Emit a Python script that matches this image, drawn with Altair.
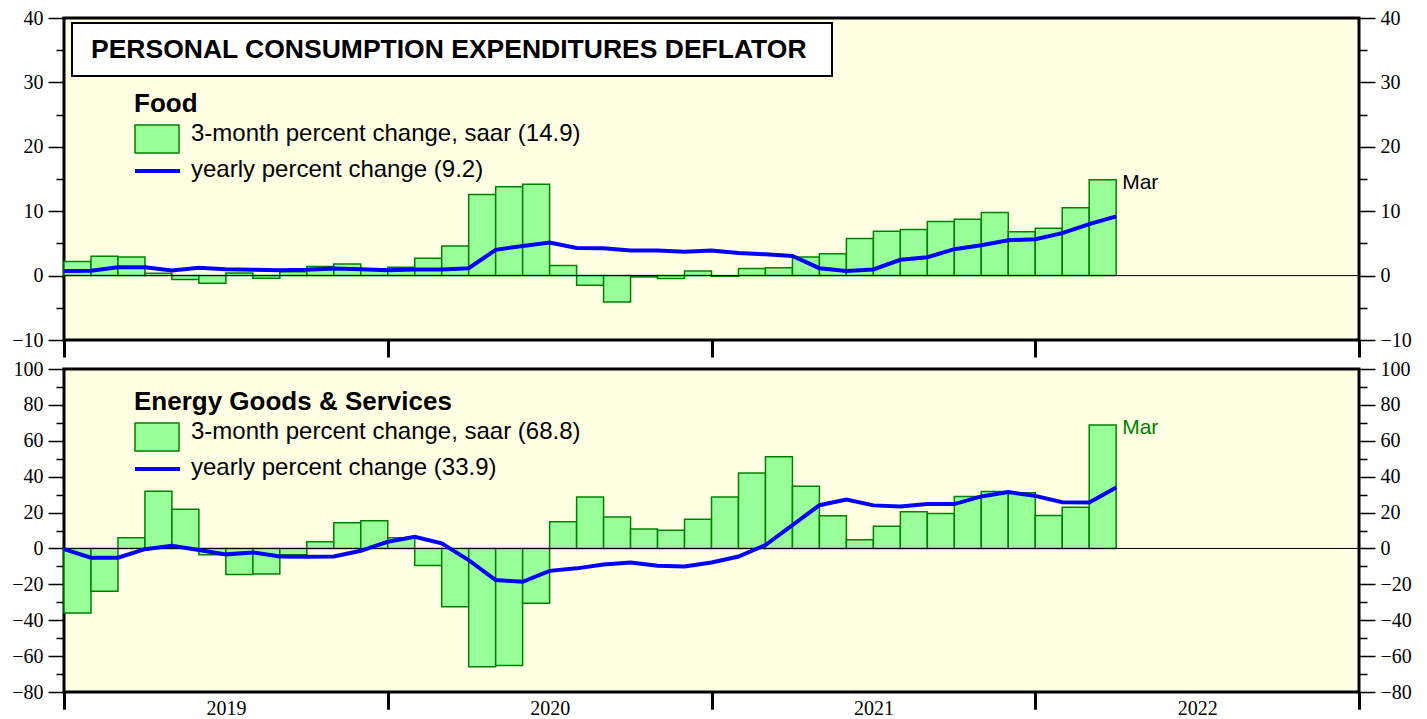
import altair as alt
import pandas as pd

# ---------------- data ----------------
YEARS = ["2019", "2020", "2021", "2022"]

# 3-month percent change, saar (Jan 2019 .. Mar 2022), one value per month
FOOD_3M = [2.2, 3.0, 2.9, 0.35, -0.6, -1.2, 0.4, -0.4, 0.6, 1.4, 1.8, 1.0,
           1.3, 2.7, 4.6, 12.6, 13.8, 14.2, 1.55, -1.5, -4.1, -0.2, -0.45, 0.7,
           -0.1, 1.1, 1.2, 2.9, 3.4, 5.75, 6.9, 7.15, 8.4, 8.75, 9.8, 6.8,
           7.35, 10.55, 14.9]
# yearly percent change (Dec 2018 .. Mar 2022), plotted at month ends
FOOD_YOY = [0.7,
            0.75, 1.3, 1.3, 0.8, 1.2, 1.0, 0.9, 0.85, 0.9, 1.1, 1.0, 0.85,
            0.95, 0.95, 1.15, 4.0, 4.6, 5.15, 4.3, 4.25, 3.9, 3.9, 3.7, 3.9,
            3.5, 3.3, 3.05, 1.15, 0.7, 0.95, 2.45, 2.85, 4.1, 4.7, 5.5, 5.65,
            6.6, 8.0, 9.2]

ENERGY_3M = [-36.0, -23.8, 5.9, 31.9, 21.9, -3.5, -14.5, -14.3, -3.5, 3.7, 14.3, 15.4,
             5.9, -9.5, -32.5, -65.9, -65.2, -30.6, 14.9, 28.6, 17.5, 10.8, 10.2, 16.3,
             28.6, 42.0, 51.1, 34.7, 18.2, 4.8, 12.4, 20.4, 19.5, 29.0, 31.8, 31.0,
             18.4, 23.0, 68.8]
ENERGY_YOY = [-0.4,
              -5.2, -5.2, -0.4, 1.5, -0.9, -3.3, -2.2, -4.5, -4.6, -4.5, -1.3, 3.7,
              6.5, 2.8, -6.5, -17.6, -18.6, -12.5, -11.1, -8.9, -7.8, -9.7, -10.0, -7.8,
              -4.5, 1.9, 13.0, 24.1, 27.3, 24.0, 23.4, 24.7, 24.7, 29.0, 31.4, 29.3,
              25.8, 25.6, 33.9]

TITLE = "PERSONAL CONSUMPTION EXPENDITURES DEFLATOR"
PANEL_NAMES = ["Food", "Energy Goods & Services"]
LEG_BAR = ["3-month percent change, saar (14.9)", "3-month percent change, saar (68.8)"]
LEG_LINE = ["yearly percent change (9.2)", "yearly percent change (33.9)"]
LAST_LABEL = "Mar"

# ---------------- style ----------------
W = 1295
BG = "#FFFFE4"
BAR_FILL = "#99FF99"
BAR_STROKE = "#008000"
LINE_COLOR = "#0000FF"
SERIF = "Liberation Serif"
SANS = "Liberation Sans"
N_MONTHS = 12 * len(YEARS)

xscale = alt.Scale(domain=[0, N_MONTHS], nice=False, zero=False)


def x_tick_axis():
    # year boundary ticks, no labels
    return alt.Axis(
        orient="bottom",
        values=[12 * i for i in range(len(YEARS) + 1)],
        labels=False,
        ticks=True,
        tickSize=17,
        tickWidth=3,
        tickColor="black",
        domain=False,
        grid=False,
        title=None,
    )


def x_label_axis():
    # year names centred in each year, no ticks
    return alt.Axis(
        orient="bottom",
        values=[12 * i + 6 for i in range(len(YEARS))],
        labelExpr=f"{YEARS!r}[(datum.value - 6) / 12]",
        labelFlush=False,
        labelOverlap=False,
        labelFont=SERIF,
        labelFontSize=20,
        labelColor="black",
        labelPadding=6,
        ticks=False,
        tickSize=0,
        domain=False,
        grid=False,
        title=None,
    )


def y_axis(orient, lo, hi, major, minor):
    return alt.Axis(
        orient=orient,
        values=list(range(lo, hi + 1, minor)),
        labelExpr=f"datum.value % {major} === 0 ? datum.label : ''",
        tickSize={"condition": {"test": f"datum.value % {major} === 0", "value": 16}, "value": 8},
        tickWidth=1.5,
        tickColor="black",
        labelFont=SERIF,
        labelFontSize=20,
        labelColor="black",
        labelPadding=5,
        labelOverlap=False,
        labelFlush=False,
        domain=False,
        grid=False,
        title=None,
    )


def panel(bars, yoy, lo, hi, major, minor, height, idx, show_years, off, mar_color, with_title):
    yscale = alt.Scale(domain=[lo, hi], nice=False, zero=False)
    tick_ax = x_tick_axis()
    line_ax = x_label_axis() if show_years else tick_ax
    bdf = pd.DataFrame({
        "m0": list(range(len(bars))),
        "m1": [i + 1 for i in range(len(bars))],
        "v": bars,
        "base": [0] * len(bars),
    })
    ldf = pd.DataFrame({"m": list(range(len(yoy))), "v": yoy})

    bar_layer = alt.Chart(bdf).mark_rect(
        fill=BAR_FILL, stroke=BAR_STROKE, strokeWidth=1.5
    ).encode(
        x=alt.X("m0:Q", scale=xscale, axis=tick_ax),
        x2="m1:Q",
        y=alt.Y("v:Q", scale=yscale, axis=y_axis("left", lo, hi, major, minor)),
        y2="base:Q",
    )

    zero = alt.Chart(pd.DataFrame({"z": [0]})).mark_rule(
        color="black", strokeWidth=1
    ).encode(y=alt.Y("z:Q", scale=yscale, axis=None))

    line_layer = alt.Chart(ldf).mark_line(
        color=LINE_COLOR, strokeWidth=4
    ).encode(
        x=alt.X("m:Q", scale=xscale, axis=line_ax),
        y=alt.Y("v:Q", scale=yscale, axis=y_axis("right", lo, hi, major, minor)),
    )

    mar = alt.Chart(pd.DataFrame({"m": [len(bars)], "v": [bars[-1]], "t": [LAST_LABEL]})).mark_text(
        align="left", baseline="middle", dx=6, dy=3, font=SANS, fontSize=21, color=mar_color
    ).encode(
        x=alt.X("m:Q", scale=xscale, axis=tick_ax),
        y=alt.Y("v:Q", scale=yscale, axis=None),
        text="t:N",
    )

    name = alt.Chart(pd.DataFrame({"t": [PANEL_NAMES[idx]]})).mark_text(
        align="left", baseline="middle", font=SANS, fontSize=26, fontWeight="bold", color="black"
    ).encode(x=alt.value(70), y=alt.value(off), text="t:N")

    swatch = alt.Chart(pd.DataFrame({"t": [LEG_BAR[idx]]})).mark_rect(
        fill=BAR_FILL, stroke=BAR_STROKE, strokeWidth=1.5
    ).encode(x=alt.value(71), x2=alt.value(115), y=alt.value(off + 21), y2=alt.value(off + 49))

    lab1 = alt.Chart(pd.DataFrame({"t": [LEG_BAR[idx]]})).mark_text(
        align="left", baseline="middle", font=SANS, fontSize=24, color="black"
    ).encode(x=alt.value(127), y=alt.value(off + 30), text="t:N")

    legline = alt.Chart(pd.DataFrame({"t": [LEG_LINE[idx]]})).mark_rule(
        color=LINE_COLOR, strokeWidth=4
    ).encode(x=alt.value(71), x2=alt.value(116), y=alt.value(off + 67))

    lab2 = alt.Chart(pd.DataFrame({"t": [LEG_LINE[idx]]})).mark_text(
        align="left", baseline="middle", font=SANS, fontSize=24, color="black"
    ).encode(x=alt.value(127), y=alt.value(off + 66), text="t:N")

    layers = [bar_layer, zero, line_layer, mar, name, swatch, lab1, legline, lab2]

    if with_title:
        tbox = alt.Chart(pd.DataFrame({"t": [TITLE]})).mark_rect(
            fill="white", stroke="black", strokeWidth=2
        ).encode(x=alt.value(8), x2=alt.value(768), y=alt.value(5), y2=alt.value(58))
        ttext = alt.Chart(pd.DataFrame({"t": [TITLE]})).mark_text(
            align="left", baseline="middle", font=SANS, fontSize=26.5, fontWeight="bold", color="black"
        ).encode(x=alt.value(27), y=alt.value(32), text="t:N")
        layers += [tbox, ttext]

    res = alt.layer(*layers).properties(width=W, height=height)
    if show_years:
        return res.resolve_scale(y="shared", x="shared").resolve_axis(y="independent", x="independent")
    return res.resolve_scale(y="shared").resolve_axis(y="independent")


top = panel(FOOD_3M, FOOD_YOY, -10, 40, 10, 5, 322, 0, False, 86, "black", True)
bottom = panel(ENERGY_3M, ENERGY_YOY, -80, 100, 20, 10, 323, 1, True, 33, BAR_STROKE, False)

chart = alt.vconcat(top, bottom, spacing=29, bounds="flush").properties(
    padding={"left": 2, "top": -2, "right": 5, "bottom": 0},
    background="white",
).configure_view(fill=BG, stroke="black", strokeWidth=3)

chart.save("out.html", embed_options={"renderer": "svg", "actions": False})
